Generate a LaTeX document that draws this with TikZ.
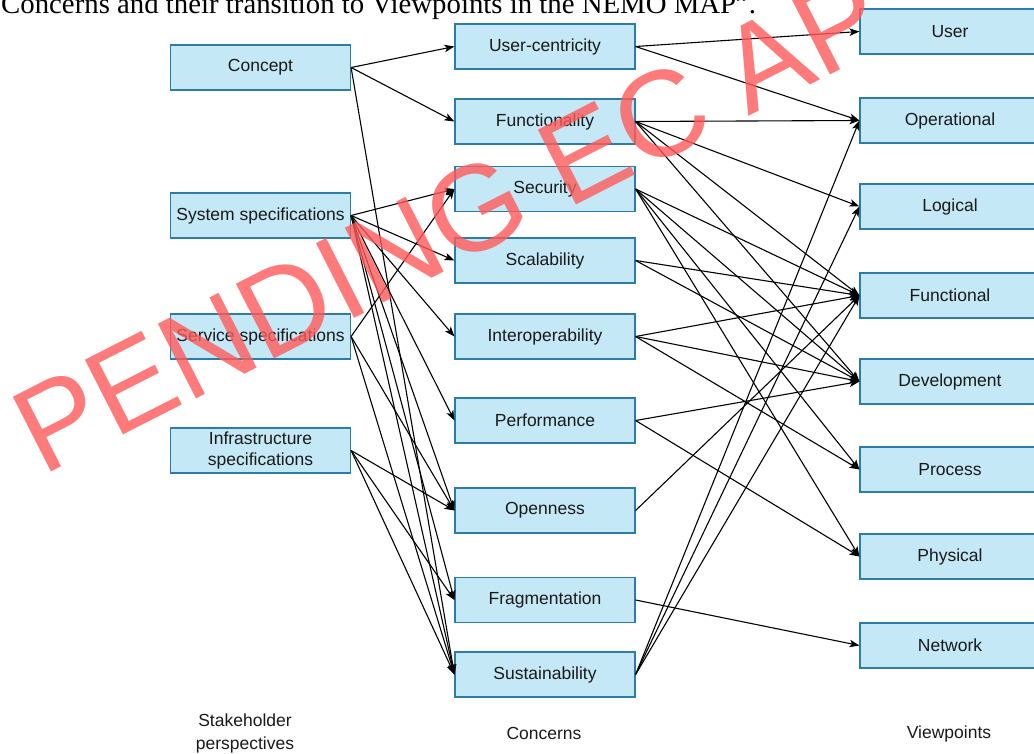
\documentclass[tikz,border=0pt]{standalone}
\usepackage{fontspec}
\setmainfont{Liberation Sans}
\newfontfamily\capserif{Liberation Serif}
\newfontfamily\markfont{Liberation Sans}
\usetikzlibrary{arrows.meta}

\definecolor{boxfill}{HTML}{C4E8F6}
\definecolor{boxline}{HTML}{2C7DA6}
\definecolor{textcol}{HTML}{1A1A1A}
\definecolor{wmred}{HTML}{FF5A5A}

\tikzset{
  boxnode/.style={draw=boxline, fill=boxfill, line width=1.2pt,
    minimum width=180pt, minimum height=45pt, inner sep=0pt,
    text=textcol, align=center,
    font=\fontsize{17.5}{21}\selectfont},
  colhead/.style={text=textcol, align=center, inner sep=0pt,
    font=\fontsize{17.5}{23}\selectfont},
  link/.style={draw=black, line width=1.1pt,
    -{Stealth[length=10pt,width=7.5pt,inset=2.5pt]}},
}

\begin{document}
\begin{tikzpicture}[x=1pt,y=-1pt]
  \useasboundingbox (0,0) rectangle (1034,754);
  \clip (0,0) rectangle (1034,754);
  \fill[white] (0,0) rectangle (1034,754);

  % caption line running off the top edge
  \node[anchor=base west, inner sep=0pt, text=black,
        font=\capserif\fontsize{28.8}{32}\selectfont] (caption) at (1,14)
        {Concerns and their transition to Viewpoints in the NEMO MAP”.};

  % stakeholder perspectives
  \node[boxnode] (concept) at (260.5,67.5)  {Concept};
  \node[boxnode] (sys)     at (260.5,215.5) {System specifications};
  \node[boxnode] (svc)     at (260.5,336.5) {Service specifications};
  \node[boxnode] (infra)   at (260.5,450.5) {Infrastructure\\specifications};

  % concerns
  \node[boxnode] (ucent) at (545,46.5)  {User-centricity};
  \node[boxnode] (func)  at (545,121.5) {Functionality};
  \node[boxnode] (sec)   at (545,189)   {Security};
  \node[boxnode] (scal)  at (545,260.5) {Scalability};
  \node[boxnode] (inter) at (545,336.5) {Interoperability};
  \node[boxnode] (perf)  at (545,420.5) {Performance};
  \node[boxnode] (open)  at (545,510.5) {Openness};
  \node[boxnode] (frag)  at (545,600)   {Fragmentation};
  \node[boxnode] (sust)  at (545,674.5) {Sustainability};

  % viewpoints
  \node[boxnode] (vuser)  at (950,31.5)  {User};
  \node[boxnode] (vop)    at (950,120.5) {Operational};
  \node[boxnode] (vlog)   at (950,206.5) {Logical};
  \node[boxnode] (vfunc)  at (950,295.5) {Functional};
  \node[boxnode] (vdev)   at (950,381.5) {Development};
  \node[boxnode] (vproc)  at (950,469.5) {Process};
  \node[boxnode] (vphys)  at (950,556.5) {Physical};
  \node[boxnode] (vnet)   at (950,645.5) {Network};

  % column headings
  \node[colhead] (h1) at (245,733.5) {Stakeholder\\perspectives};
  \node[colhead] (h2) at (544,733.5) {Concerns};
  \node[colhead] (h3) at (949,733.5) {Viewpoints};

  % perspectives -> concerns
  \foreach \a/\b in {concept/ucent, concept/func, concept/sust,
      sys/sec, sys/scal, sys/inter, sys/perf, sys/open, sys/frag, sys/sust,
      svc/sec, svc/open, svc/sust,
      infra/open, infra/frag, infra/sust}
    \draw[link] (\a.east) -- (\b.west);

  % concerns -> viewpoints
  \foreach \a/\b in {ucent/vuser, ucent/vop,
      func/vop, func/vlog, func/vfunc, func/vdev,
      sec/vfunc, sec/vdev, sec/vproc, sec/vphys,
      scal/vfunc, scal/vdev,
      inter/vfunc, inter/vdev, inter/vproc,
      perf/vdev, perf/vphys,
      open/vfunc,
      frag/vnet,
      sust/vop, sust/vlog, sust/vfunc}
    \draw[link] (\a.east) -- (\b.west);

  % watermark stamped across the chart
  \node[rotate=27, anchor=base west, inner sep=0pt, text=wmred, text opacity=0.8,
        font=\markfont\fontsize{122}{122}\selectfont] (stamp) at (42,477)
        {PENDING EC AP};
\end{tikzpicture}
\end{document}
